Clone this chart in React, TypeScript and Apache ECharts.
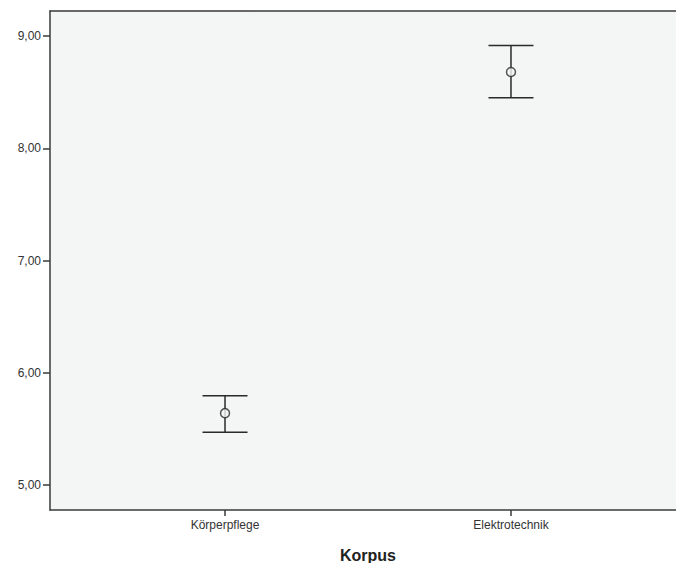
import React, { useEffect, useRef } from "react";
import * as echarts from "echarts";

const categories = ["Körperpflege", "Elektrotechnik"];
const categoryPositions = [1, 2];
const means = [5.64, 8.68];
const lowerBounds = [5.47, 8.45];
const upperBounds = [5.795, 8.915];
const yTicks = [5, 6, 7, 8, 9];

export default function App() {
  const ref = useRef<HTMLDivElement>(null);
  useEffect(() => {
    document.body.style.margin = "0";
    const chart = echarts.init(ref.current!, null, { renderer: "svg" });
    const axisColor = "#3a3a3a";
    const labelFont = { fontFamily: "Liberation Sans, Arial, sans-serif", fontSize: 12, color: "#333" };
    chart.setOption({
      animation: false,
      backgroundColor: "#ffffff",
      grid: {
        left: 50,
        top: 11,
        bottom: 53,
        right: -10,
        outerBoundsMode: "none",
        containLabel: false,
        show: true,
        backgroundColor: "#f4f5f5",
        borderWidth: 0,
      },
      xAxis: [
        {
          type: "value",
          min: 0.388,
          max: 2.612,
          name: "Korpus",
          nameLocation: "middle",
          nameGap: 37,
          nameTextStyle: {
            fontFamily: "Liberation Sans, Arial, sans-serif",
            fontSize: 16,
            fontWeight: "bold",
            color: "#222",
          },
          splitLine: { show: false },
          axisLine: { show: true, lineStyle: { color: axisColor, width: 1.5 } },
          axisTick: {
            show: true,
            customValues: categoryPositions,
            length: 6,
            lineStyle: { color: axisColor, width: 1.5 },
          },
          axisLabel: {
            customValues: categoryPositions,
            margin: 9,
            ...labelFont,
            formatter: (v: number) => categories[categoryPositions.indexOf(Math.round(v))] ?? "",
          },
        },
        {
          type: "value",
          position: "top",
          min: 0.388,
          max: 2.612,
          splitLine: { show: false },
          axisLine: { show: true, onZero: false, lineStyle: { color: axisColor, width: 1.5 } },
          axisTick: { show: false },
          axisLabel: { show: false },
        },
      ],
      yAxis: {
        type: "value",
        min: 4.777,
        max: 9.223,
        splitLine: { show: false },
        axisLine: { show: true, lineStyle: { color: axisColor, width: 1.5 } },
        axisTick: {
          show: true,
          customValues: yTicks,
          length: 7,
          lineStyle: { color: axisColor, width: 1.5 },
        },
        axisLabel: {
          customValues: yTicks,
          margin: 9,
          ...labelFont,
          formatter: (v: number) => v.toFixed(2).replace(".", ","),
        },
      },
      series: [
        {
          type: "custom",
          data: categoryPositions.map((x, i) => [x, lowerBounds[i], upperBounds[i]]),
          renderItem: (params: any, api: any) => {
            const x = api.value(0);
            const lo = api.coord([x, api.value(1)]);
            const hi = api.coord([x, api.value(2)]);
            const half = 22.5;
            const style = { stroke: "#2a2a2a", lineWidth: 1.5 };
            return {
              type: "group",
              children: [
                { type: "line", shape: { x1: lo[0], y1: lo[1], x2: hi[0], y2: hi[1] }, style },
                { type: "line", shape: { x1: hi[0] - half, y1: hi[1], x2: hi[0] + half, y2: hi[1] }, style },
                { type: "line", shape: { x1: lo[0] - half, y1: lo[1], x2: lo[0] + half, y2: lo[1] }, style },
              ],
            };
          },
          z: 2,
        },
        {
          type: "scatter",
          data: categoryPositions.map((x, i) => [x, means[i]]),
          symbol: "circle",
          symbolSize: 9,
          itemStyle: { color: "#f4f5f5", borderColor: "#2a2a2a", borderWidth: 1.5 },
          z: 3,
        },
      ],
    });
    return () => chart.dispose();
  }, []);
  return <div ref={ref} style={{ width: 676, height: 563 }} />;
}
